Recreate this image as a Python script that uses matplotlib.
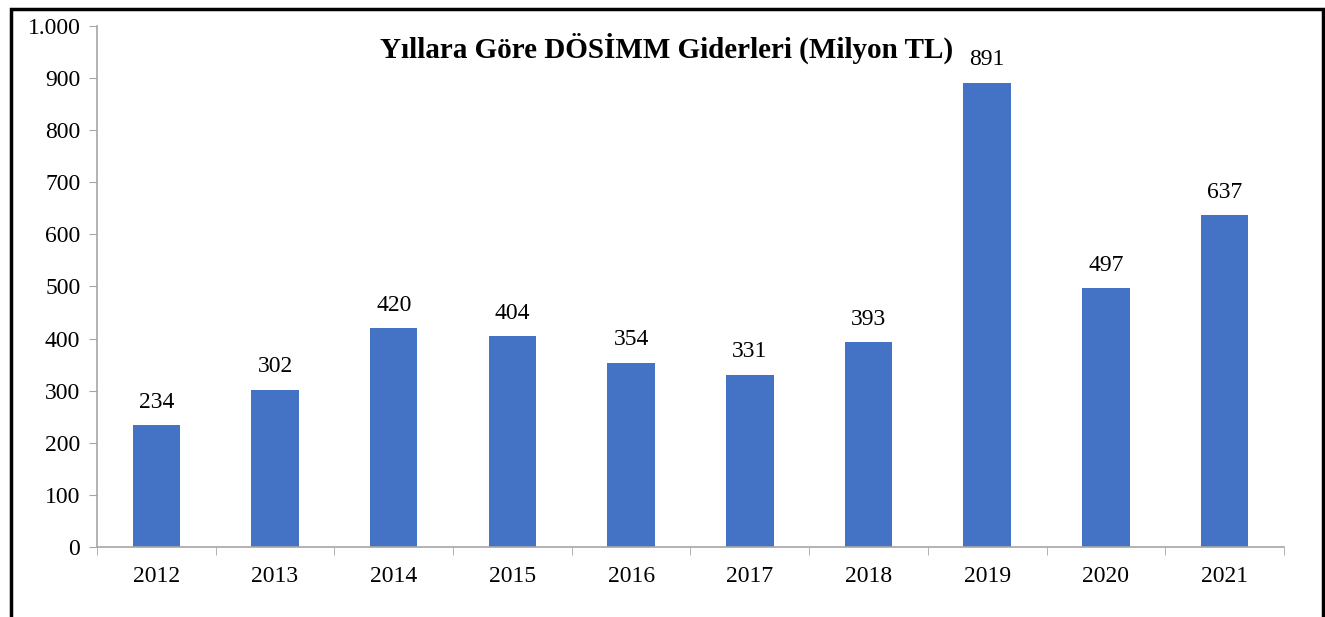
""" Bar chart of DÖSİMM expenses by year """
import matplotlib
matplotlib.use("Agg")
import matplotlib.pyplot as plt
from matplotlib.patches import Rectangle
from matplotlib.ticker import FuncFormatter

years = ["2012", "2013", "2014", "2015", "2016",
         "2017", "2018", "2019", "2020", "2021"]
expenses = [234, 302, 420, 404, 354, 331, 393, 891, 497, 637]
title = "Yıllara Göre DÖSİMM Giderleri (Milyon TL)"

plt.rcParams["font.family"] = ["Liberation Serif", "DejaVu Serif"]

fig = plt.figure(figsize=(13.25, 6.17), dpi=100)
ax = fig.add_axes([0.0732, 0.1135, 0.8958, 0.8444])

pos = list(range(len(years)))
bars = ax.bar(pos, expenses, width=0.4, color="#4472C4", zorder=2)
for rect, val in zip(bars, expenses):
    ax.annotate(str(val), (rect.get_x() + rect.get_width() / 2, val),
                xytext=(0, 9), textcoords="offset points",
                ha="center", va="bottom", fontsize=17)

ax.set_xlim(-0.5, len(years) - 0.5)
ax.set_ylim(0, 1000)
ax.set_yticks(range(0, 1001, 100))
ax.yaxis.set_major_formatter(
    FuncFormatter(lambda v, _: f"{int(v):,}".replace(",", ".")))
ax.set_xticks(pos)
ax.set_xticklabels(years)
ax.set_xticks([p - 0.5 for p in pos] + [len(years) - 0.5], minor=True)
ax.tick_params(axis="x", which="major", length=0, pad=14, labelsize=17)
ax.tick_params(axis="x", which="minor", length=6, color="#A6A6A6",
               direction="out")
ax.tick_params(axis="y", length=6, color="#A6A6A6", direction="out",
               labelsize=17, pad=6)

for side in ("top", "right"):
    ax.spines[side].set_visible(False)
for side in ("left", "bottom"):
    ax.spines[side].set_color("#A6A6A6")
    ax.spines[side].set_linewidth(1.2)

fig.text(0.503, 0.922, title, ha="center", va="center",
         fontsize=21, fontweight="bold")

# black frame round the chart, bottom edge falls outside the picture
frame = Rectangle((11 / 1325, -0.1), 1312 / 1325, 1.1 - 9 / 617,
                  transform=fig.transFigure, fill=False,
                  edgecolor="black", linewidth=2.5)
fig.patches.append(frame)

fig.savefig("out.png", dpi=100)
